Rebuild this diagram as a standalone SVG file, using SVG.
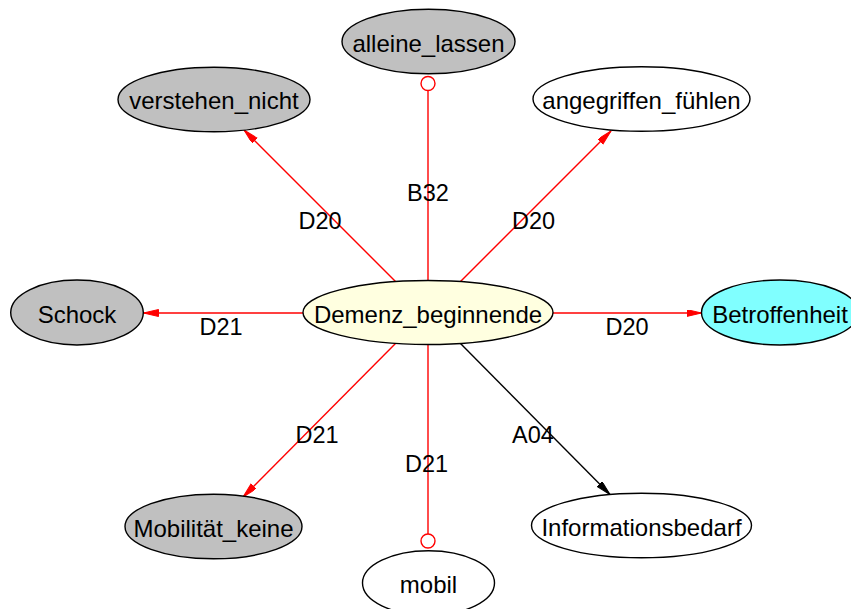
<svg xmlns="http://www.w3.org/2000/svg" width="851" height="609" viewBox="0 0 851 609">
  <style>
    .node ellipse { stroke: #000; stroke-width: 1.4; }
    .node text, .lbl { font-family: "Liberation Sans", Arial, Helvetica, sans-serif; fill: #000; text-anchor: middle; }
    .node text { font-size: 24px; }
    .lbl { font-size: 23.5px; }
    .gray { fill: #c0c0c0; }
    .white { fill: #ffffff; }
    .edge { fill: none; stroke-width: 1.4; }
    .red { stroke: #ff0000; }
    .black { stroke: #000000; }
    .dot { fill: #ffffff; stroke: #ff0000; stroke-width: 1.4; }
  </style>
  <defs>
    <marker id="arrowRed" markerUnits="userSpaceOnUse" markerWidth="16" markerHeight="8" refX="15" refY="3.5" orient="auto">
      <path d="M0,0 L15,3.5 L0,7 z" fill="#ff0000" stroke="#ff0000" stroke-width="1"/>
    </marker>
    <marker id="arrowBlack" markerUnits="userSpaceOnUse" markerWidth="16" markerHeight="8" refX="15" refY="3.5" orient="auto">
      <path d="M0,0 L15,3.5 L0,7 z" fill="#000000" stroke="#000000" stroke-width="1"/>
    </marker>
  </defs>
  <rect width="851" height="609" fill="#ffffff"/>

  <!-- connectors -->
  <g id="edges">
    <line class="edge red" x1="428" y1="281" x2="428" y2="91"/>
    <circle class="dot" cx="428" cy="83.5" r="7"/>
    <line class="edge red" x1="396" y1="282" x2="244" y2="130" marker-end="url(#arrowRed)"/>
    <line class="edge red" x1="460" y1="282" x2="611" y2="131" marker-end="url(#arrowRed)"/>
    <line class="edge red" x1="303" y1="313" x2="143.5" y2="313" marker-end="url(#arrowRed)"/>
    <line class="edge red" x1="553" y1="313" x2="701.5" y2="313" marker-end="url(#arrowRed)"/>
    <line class="edge red" x1="396" y1="343" x2="243" y2="497" marker-end="url(#arrowRed)"/>
    <line class="edge black" x1="460" y1="343" x2="610" y2="494.5" marker-end="url(#arrowBlack)"/>
    <line class="edge red" x1="428" y1="344" x2="428" y2="534"/>
    <circle class="dot" cx="428" cy="541" r="7"/>

    <text class="lbl" x="320" y="228.5">D20</text>
    <text class="lbl" x="428" y="200.5">B32</text>
    <text class="lbl" x="533.5" y="228.5">D20</text>
    <text class="lbl" x="221" y="335">D21</text>
    <text class="lbl" x="627" y="335">D20</text>
    <text class="lbl" x="317" y="442.5">D21</text>
    <text class="lbl" x="426.5" y="471.5">D21</text>
    <text class="lbl" x="533" y="442.5">A04</text>
  </g>

  <!-- nodes -->
  <g id="node-demenz" class="node">
    <ellipse cx="428" cy="312.5" rx="125" ry="32" fill="#ffffe0"/>
    <text x="428" y="322.5">Demenz_beginnende</text>
  </g>
  <g id="node-alleine" class="node">
    <ellipse cx="428.5" cy="41.5" rx="86.5" ry="32.3" class="gray"/>
    <text x="428.5" y="51.5">alleine_lassen</text>
  </g>
  <g id="node-verstehen" class="node">
    <ellipse cx="214" cy="99.5" rx="96" ry="32.3" class="gray"/>
    <text x="214" y="109.3">verstehen_nicht</text>
  </g>
  <g id="node-angegriffen" class="node">
    <ellipse cx="641.5" cy="99" rx="108.5" ry="32.3" class="white"/>
    <text x="641.5" y="108.5">angegriffen_fühlen</text>
  </g>
  <g id="node-schock" class="node">
    <ellipse cx="77" cy="312.5" rx="66.3" ry="32.5" class="gray"/>
    <text x="77" y="322.5">Schock</text>
  </g>
  <g id="node-betroffenheit" class="node">
    <ellipse cx="780" cy="312.5" rx="78.5" ry="32.5" fill="#80ffff"/>
    <text x="780" y="322.5">Betroffenheit</text>
  </g>
  <g id="node-mobilitaet" class="node">
    <ellipse cx="213.5" cy="526.5" rx="88.5" ry="32.3" class="gray"/>
    <text x="213.5" y="536.5">Mobilität_keine</text>
  </g>
  <g id="node-info" class="node">
    <ellipse cx="641.5" cy="525.5" rx="110" ry="32.3" class="white"/>
    <text x="641.5" y="536">Informationsbedarf</text>
  </g>
  <g id="node-mobil" class="node">
    <ellipse cx="428.5" cy="583" rx="66" ry="32.3" class="white"/>
    <text x="428.5" y="592.5">mobil</text>
  </g>
</svg>
